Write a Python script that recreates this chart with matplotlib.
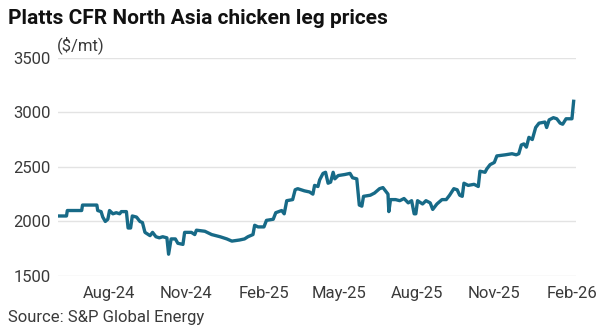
import pandas as pd
import matplotlib
matplotlib.use("Agg")
import matplotlib.pyplot as plt

plt.rcParams['font.family'] = ['Roboto', 'DejaVu Sans']

# Platts CFR North Asia chicken leg assessments ($/mt)
dates = [
    "2024-06-03", "2024-06-12", "2024-06-13", "2024-06-30", "2024-07-01", "2024-07-18",
    "2024-07-19", "2024-07-23", "2024-07-25", "2024-07-28", "2024-07-31", "2024-08-02",
    "2024-08-06", "2024-08-10", "2024-08-14", "2024-08-16", "2024-08-22", "2024-08-24",
    "2024-08-27", "2024-08-29", "2024-09-03", "2024-09-07", "2024-09-10", "2024-09-13",
    "2024-09-19", "2024-09-22", "2024-09-26", "2024-09-30", "2024-10-04", "2024-10-09",
    "2024-10-11", "2024-10-14", "2024-10-19", "2024-10-22", "2024-10-28", "2024-10-30",
    "2024-11-07", "2024-11-11", "2024-11-13", "2024-11-23", "2024-12-01", "2024-12-11",
    "2024-12-19", "2024-12-25", "2025-01-03", "2025-01-09", "2025-01-13", "2025-01-19",
    "2025-01-21", "2025-01-25", "2025-02-01", "2025-02-04", "2025-02-12", "2025-02-15",
    "2025-02-22", "2025-02-25", "2025-02-28", "2025-03-07", "2025-03-10", "2025-03-13",
    "2025-03-21", "2025-03-27", "2025-03-31", "2025-04-02", "2025-04-06", "2025-04-08",
    "2025-04-12", "2025-04-15", "2025-04-18", "2025-04-21", "2025-04-24", "2025-04-26",
    "2025-04-30", "2025-05-08", "2025-05-14", "2025-05-17", "2025-05-22", "2025-05-25",
    "2025-05-28", "2025-05-30", "2025-06-07", "2025-06-12", "2025-06-18", "2025-06-22",
    "2025-06-24", "2025-06-28", "2025-06-29", "2025-07-01", "2025-07-07", "2025-07-12",
    "2025-07-17", "2025-07-22", "2025-07-26", "2025-07-29", "2025-07-31", "2025-08-02",
    "2025-08-08", "2025-08-12", "2025-08-17", "2025-08-20", "2025-08-25", "2025-08-31",
    "2025-09-05", "2025-09-09", "2025-09-14", "2025-09-18", "2025-09-21", "2025-09-24",
    "2025-09-26", "2025-10-01", "2025-10-08", "2025-10-13", "2025-10-15", "2025-10-21",
    "2025-10-23", "2025-10-27", "2025-11-01", "2025-11-04", "2025-11-14", "2025-11-22",
    "2025-11-27", "2025-11-30", "2025-12-03", "2025-12-06", "2025-12-09", "2025-12-12",
    "2025-12-16", "2025-12-20", "2025-12-24", "2025-12-31", "2026-01-02", "2026-01-05",
    "2026-01-10", "2026-01-14", "2026-01-18", "2026-01-21", "2026-01-25", "2026-02-01",
    "2026-02-03",
]
prices = [
    2050, 2050, 2100, 2100, 2150, 2150,
    2100, 2090, 2040, 2000, 2020, 2100,
    2070, 2080, 2070, 2090, 2090, 1940,
    1940, 2050, 2040, 2000, 1990, 1900,
    1870, 1900, 1860, 1850, 1860, 1850,
    1700, 1840, 1840, 1800, 1790, 1900,
    1900, 1880, 1920, 1910, 1880, 1860,
    1840, 1820, 1830, 1840, 1860, 1880,
    1965, 1950, 1950, 2010, 2020, 2080,
    2100, 2070, 2190, 2200, 2290, 2300,
    2280, 2270, 2250, 2330, 2320, 2380,
    2440, 2450, 2350, 2360, 2450, 2390,
    2420, 2430, 2440, 2400, 2390, 2150,
    2140, 2230, 2240, 2260, 2300, 2310,
    2290, 2250, 2090, 2200, 2200, 2190,
    2210, 2170, 2190, 2070, 2070, 2190,
    2160, 2190, 2170, 2110, 2160, 2200,
    2200, 2240, 2300, 2290, 2240, 2230,
    2350, 2330, 2340, 2320, 2460, 2450,
    2480, 2520, 2540, 2600, 2610, 2620,
    2610, 2620, 2700, 2710, 2680, 2770,
    2750, 2860, 2900, 2910, 2860, 2930,
    2950, 2940, 2900, 2890, 2940, 2940,
    3100,
]
tick_dates = ["2024-08-01", "2024-11-01", "2025-02-01", "2025-05-01",
              "2025-08-01", "2025-11-01", "2026-02-01"]
tick_labels = ["Aug-24", "Nov-24", "Feb-25", "May-25", "Aug-25", "Nov-25", "Feb-26"]
y_ticks = [1500, 2000, 2500, 3000, 3500]

df = pd.DataFrame({"date": pd.to_datetime(dates), "price": prices})

fig = plt.figure(figsize=(6.11, 3.33), dpi=100)
ax = fig.add_axes([0.095, 0.171, 0.848, 0.656])

ax.plot(df["date"], df["price"], color="#176a87", linewidth=2.4,
        solid_joinstyle="round", zorder=3)

ax.set_ylim(1500, 3500)
ax.set_yticks(y_ticks)
ax.set_xlim(pd.Timestamp("2024-06-02"), pd.Timestamp("2026-02-06"))
ax.set_xticks(pd.to_datetime(tick_dates))
ax.set_xticklabels(tick_labels)

ax.grid(axis="y", color="#e3e3e3", linewidth=1.0, zorder=0)
ax.grid(axis="x", visible=False)
for s in ax.spines.values():
    s.set_visible(False)
ax.tick_params(axis="both", length=0, labelsize=12, labelcolor="#3a3a3a")
ax.tick_params(axis="y", pad=5)
ax.tick_params(axis="x", pad=7)

fig.text(0.013, 0.945, "Platts CFR North Asia chicken leg prices",
         fontsize=15, fontweight="bold", color="#111111", va="center")
fig.text(0.093, 0.865, "($/mt)", fontsize=12, color="#3a3a3a", va="center")
fig.text(0.013, 0.048, "Source: S&P Global Energy", fontsize=12,
         color="#3a3a3a", va="center")

fig.savefig("out.png", dpi=100)
